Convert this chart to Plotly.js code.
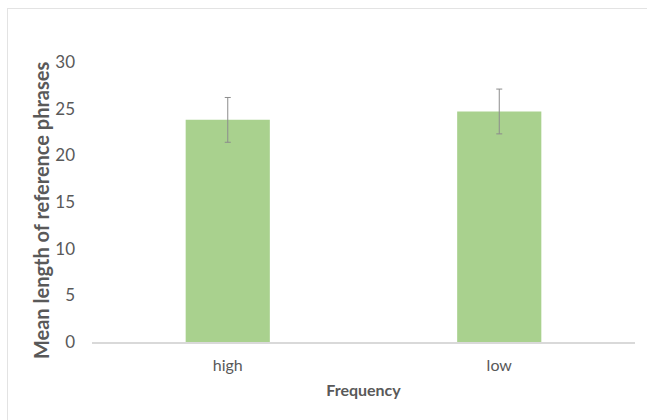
<!DOCTYPE html>
<html><head><meta charset="utf-8">
<script src="https://cdn.plot.ly/plotly-3.0.1.min.js"></script>
<style>
html,body{margin:0;padding:0;background:#fff;}
#wrap{position:relative;width:647px;height:420px;}
#frame{position:absolute;left:7px;top:8px;right:-5px;bottom:-5px;border-left:1.5px solid #e3e3e3;border-top:1.5px solid #e3e3e3;pointer-events:none;}
#chart{position:absolute;left:0;top:0;width:647px;height:420px;}
</style></head>
<body><div id="wrap"><div id="chart"></div><div id="frame"></div></div>
<script>
const categories = ["high", "low"];
const meanLength = [23.8, 24.7];
const errorValues = [2.4, 2.4];
const yTicks = [0, 5, 10, 15, 20, 25, 30];
const xTitle = 'Frequency';
const yTitle = 'Mean length of reference phrases';

const FONT = 'Lato, "Open Sans", sans-serif';
const trace = {
  type: 'bar',
  x: categories,
  y: meanLength,
  marker: {color: '#a9d18e'},
  error_y: {type: 'data', array: errorValues, visible: true, color: '#8c8c8c', thickness: 1, width: 3},
  hoverinfo: 'none'
};
const layout = {
  width: 647, height: 420,
  margin: {l: 92, r: 12, t: 62, b: 78},
  paper_bgcolor: '#fff', plot_bgcolor: '#fff',
  showlegend: false,
  bargap: 0.69,
  font: {family: FONT, color: '#595959'},
  xaxis: {
    showline: true, linecolor: '#d9d9d9', linewidth: 1.5,
    ticks: '', ticklabelstandoff: 8, tickfont: {size: 16, color: '#595959'},
    title: {text: xTitle, font: {size: 16, color: '#595959', family: FONT, weight: 'bold'}, standoff: 12}
  },
  yaxis: {
    range: [0, 30], tickvals: yTicks, showgrid: false, zeroline: false, showline: false,
    ticks: '', ticklabelstandoff: 16, tickfont: {size: 17, color: '#595959'}
  },
  annotations: [{
    text: '<b>' + yTitle + '</b>', textangle: -90, showarrow: false,
    xref: 'paper', yref: 'paper', x: -0.094, y: 0.471, xanchor: 'center', yanchor: 'middle',
    font: {size: 20, color: '#595959', family: FONT}
  }]
};
Plotly.newPlot('chart', [trace], layout, {displayModeBar: false, staticPlot: true});
</script></body></html>
